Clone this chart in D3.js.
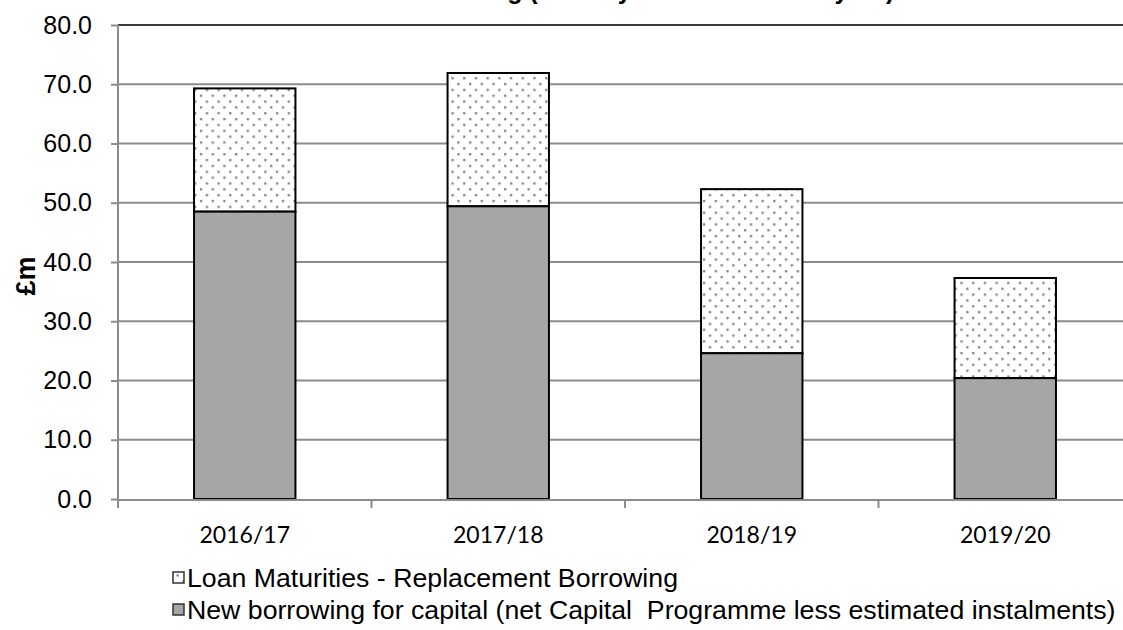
<!DOCTYPE html>
<html><head><meta charset="utf-8">
<script src="https://cdn.jsdelivr.net/npm/d3@7"></script>
<style>
body{margin:0;background:#fff;}
svg{display:block;}
</style></head>
<body>
<svg id="chart" width="1123" height="630"></svg>
<script>
const title = "Estimated Borrowing (Total by Source for each year)";
const yAxisLabel = "£m";
const categories = ["2016/17", "2017/18", "2018/19", "2019/20"];
const seriesNames = ["Loan Maturities - Replacement Borrowing",
  "New borrowing for capital (net Capital  Programme less estimated instalments)"];
const newBorrowing = [48.5, 49.4, 24.6, 20.4];
const replacement = [20.8, 22.5, 27.7, 16.9];
const yTicks = [0, 10, 20, 30, 40, 50, 60, 70, 80];

const svg = d3.select("#chart");
const defs = svg.append("defs");
const pat = defs.append("pattern").attr("id", "dots").attr("patternUnits", "userSpaceOnUse")
  .attr("width", 11.7).attr("height", 11.7);
pat.append("rect").attr("width", 11.7).attr("height", 11.7).attr("fill", "#fff");
pat.append("rect").attr("x", 1).attr("y", 1).attr("width", 2.3).attr("height", 2.3).attr("fill", "#858585");
pat.append("rect").attr("x", 6.85).attr("y", 6.85).attr("width", 2.3).attr("height", 2.3).attr("fill", "#858585");

const x0 = 118, step = 253.5;
const x = d3.scaleBand().domain(categories).range([x0, x0 + step * categories.length])
  .paddingInner(0.6).paddingOuter(0.3);
const y = d3.scaleLinear().domain([0, 80]).range([499, 25]);

// gridlines
svg.append("g").selectAll("line").data(yTicks.filter(d => d > 0)).join("line")
  .attr("x1", x0).attr("x2", 1123)
  .attr("y1", d => y(d)).attr("y2", d => y(d))
  .attr("stroke", d => d === 80 ? "#3a3a3a" : "#8c8c8c").attr("stroke-width", 2);

// y axis
const yAxis = svg.append("g").attr("transform", `translate(${x0},0)`)
  .call(d3.axisLeft(y).tickValues(yTicks).tickFormat(d3.format(".1f")).tickSize(7).tickPadding(19));
yAxis.select(".domain").attr("stroke", "#8c8c8c").attr("stroke-width", 2).attr("d", `M0,${y(80)}V${y(0) + 8}`);
yAxis.selectAll(".tick line").attr("stroke", "#8c8c8c").attr("stroke-width", 2);
yAxis.selectAll(".tick text").attr("font-family", "Liberation Sans, Arial, sans-serif")
  .attr("font-size", 25).attr("fill", "#000");

// bars
const stacked = categories.map((c, i) => ({c, a: newBorrowing[i], b: replacement[i]}));
const bars = svg.append("g");
bars.selectAll(".top").data(stacked).join("rect")
  .attr("x", d => x(d.c)).attr("width", x.bandwidth())
  .attr("y", d => y(d.a + d.b)).attr("height", d => y(d.a) - y(d.a + d.b))
  .attr("fill", "url(#dots)").attr("stroke", "#000").attr("stroke-width", 2);
bars.selectAll(".bot").data(stacked).join("rect")
  .attr("x", d => x(d.c)).attr("width", x.bandwidth())
  .attr("y", d => y(d.a)).attr("height", d => y(0) - y(d.a))
  .attr("fill", "#a6a6a6").attr("stroke", "#000").attr("stroke-width", 2);

// x axis
const xa = svg.append("g");
xa.append("line").attr("x1", x0).attr("x2", 1123).attr("y1", y(0) + 1).attr("y2", y(0) + 1)
  .attr("stroke", "#8c8c8c").attr("stroke-width", 2);
xa.selectAll(".xt").data(d3.range(categories.length)).join("line")
  .attr("x1", i => x0 + i * step).attr("x2", i => x0 + i * step)
  .attr("y1", y(0)).attr("y2", y(0) + 9).attr("stroke", "#8c8c8c").attr("stroke-width", 2);
xa.selectAll("text").data(categories).join("text")
  .attr("x", d => x(d) + x.bandwidth() / 2).attr("y", 543)
  .attr("text-anchor", "middle").attr("font-family", "Lato, Carlito, Calibri, sans-serif")
  .attr("font-size", 23).attr("fill", "#000").text(d => d);

// y label
svg.append("text").attr("transform", "translate(35,276) rotate(-90)")
  .attr("text-anchor", "middle").attr("font-family", "Liberation Sans, Arial, sans-serif")
  .attr("font-weight", "bold").attr("font-size", 27).text(yAxisLabel);

// title (cut off at top, as in the reference)
svg.append("text").attr("x", 271).attr("y", -1)
  .attr("font-family", "Liberation Sans, Arial, sans-serif").attr("font-weight", "bold")
  .attr("font-size", 25).text(title);

// legend
const lg = svg.append("g");
const legendItems = [{name: seriesNames[0], fill: "url(#dots)", yb: 587},
                     {name: seriesNames[1], fill: "#a6a6a6", yb: 619}];
lg.selectAll("rect").data(legendItems).join("rect")
  .attr("x", 173).attr("y", d => d.yb - 15).attr("width", 11).attr("height", 11)
  .attr("fill", d => d.fill).attr("stroke", "#333").attr("stroke-width", 1.5);
lg.selectAll("text").data(legendItems).join("text")
  .attr("x", 187).attr("y", d => d.yb)
  .style("white-space", "pre").attr("xml:space", "preserve")
  .attr("font-family", "Liberation Sans, Arial, sans-serif").attr("font-size", 26.7)
  .attr("fill", "#000").text(d => d.name);
</script>
</body></html>
